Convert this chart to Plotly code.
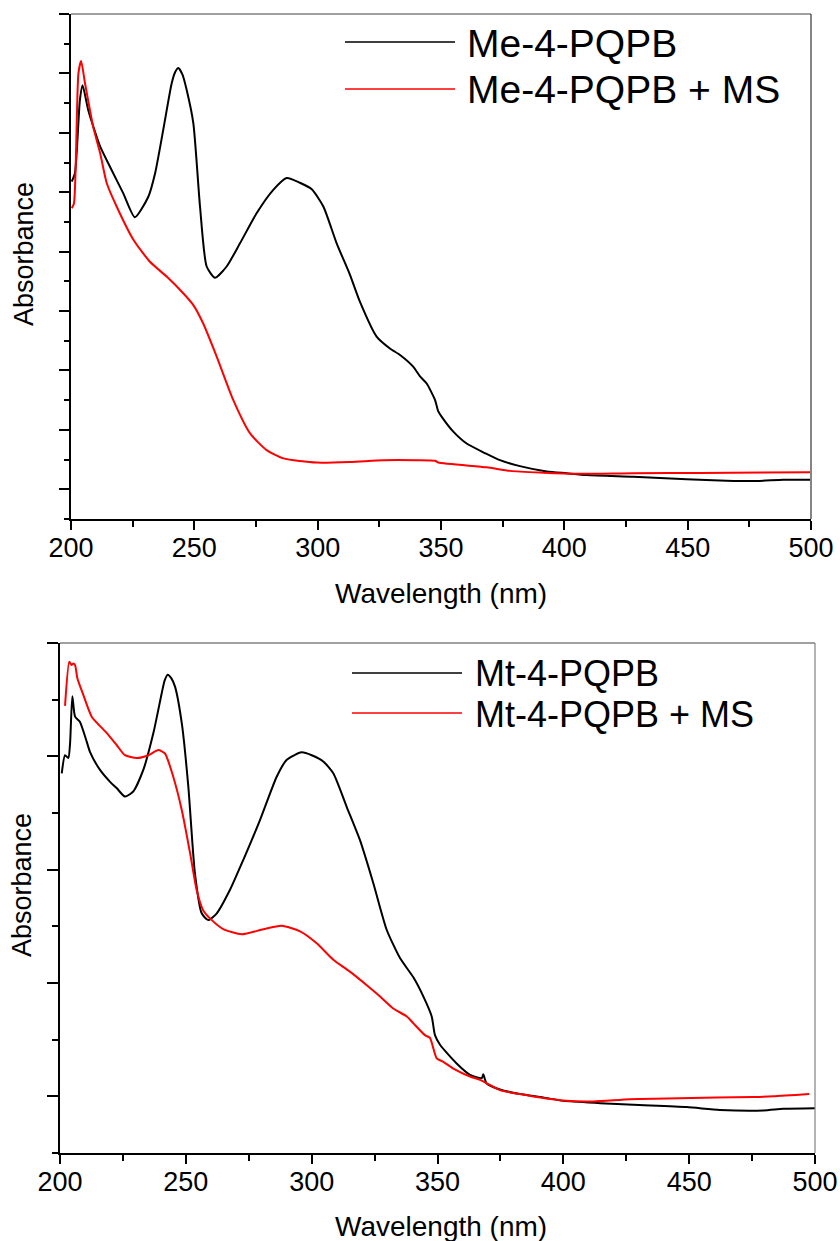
import plotly.graph_objects as go

# ---- Me-4-PQPB (upper panel) ----
me_wl = [200.3, 201.6, 203.6, 204.7, 207.0, 211.8, 215.8, 221.2, 225.9, 231.3,
         234.1, 237.4, 240.8, 242.2, 243.5, 245.2, 246.9, 249.6, 252.3, 255.0, 258.4, 263.1,
         268.5, 275.3, 282.0, 287.4, 292.8, 297.6, 302.3, 307.7, 313.1, 317.2,
         323.9, 329.3, 333.4, 338.8, 341.5, 344.2, 347.6, 348.9, 350.3, 355.0,
         360.4, 367.8, 373.9, 382.0, 392.9, 401.0, 409.1, 428.0, 449.6, 465.8,
         478.0, 488.8, 499.6]
me_abs = [0.518, 0.532, 0.655, 0.680, 0.638, 0.577, 0.543, 0.498, 0.458, 0.492,
          0.532, 0.605, 0.683, 0.702, 0.709, 0.698, 0.672, 0.616, 0.476, 0.375, 0.356, 0.375,
          0.414, 0.465, 0.504, 0.524, 0.516, 0.505, 0.476, 0.414, 0.361, 0.315,
          0.257, 0.237, 0.226, 0.206, 0.190, 0.178, 0.150, 0.131, 0.122, 0.097,
          0.077, 0.061, 0.049, 0.039, 0.030, 0.027, 0.024, 0.021, 0.017, 0.0145,
          0.014, 0.016, 0.016]

me_ms_wl = [200.3, 201.2, 203.0, 204.1, 205.7, 209.0, 211.8, 214.5, 218.5, 225.3,
            232.0, 238.8, 245.5, 249.6, 253.6, 259.1, 265.8, 272.6, 279.3, 286.1,
            299.6, 313.1, 326.6, 340.1, 347.6, 348.9, 368.5, 378.0, 391.5, 405.0,
            428.0, 455.0, 499.6]
me_ms_abs = [0.473, 0.481, 0.700, 0.721, 0.683, 0.610, 0.566, 0.515, 0.476, 0.420,
             0.383, 0.358, 0.330, 0.310, 0.279, 0.223, 0.150, 0.094, 0.066, 0.052,
             0.045, 0.046, 0.049, 0.049, 0.048, 0.045, 0.037, 0.031, 0.028, 0.026,
             0.027, 0.0274, 0.0286]

# ---- Mt-4-PQPB (lower panel) ----
mt_wl = [200.7, 202.0, 203.3, 204.0, 204.9, 206.0, 207.9, 210.6, 211.9, 215.9,
         219.9, 222.5, 225.8, 229.1, 233.1, 237.1, 240.4, 241.6, 242.8, 244.2, 245.7, 248.4,
         251.0, 253.6, 256.3, 258.9, 262.3, 267.5, 272.8, 279.5, 286.1, 290.1,
         296.0, 300.0, 304.6, 308.6, 313.9, 319.2, 324.5, 329.8, 335.1, 340.4,
         344.4, 347.7, 349.0, 351.0, 357.6, 362.9, 367.6, 368.2, 369.5, 374.8,
         382.8, 392.0, 400.0, 414.6, 427.8, 449.0, 462.2, 479.5, 487.4, 500.0]
mt_abs = [0.570, 0.602, 0.597, 0.623, 0.706, 0.670, 0.661, 0.626, 0.608, 0.576,
          0.555, 0.544, 0.529, 0.538, 0.576, 0.641, 0.711, 0.734, 0.744, 0.738, 0.723, 0.658,
          0.546, 0.394, 0.323, 0.311, 0.323, 0.364, 0.417, 0.488, 0.564, 0.594,
          0.607, 0.602, 0.591, 0.570, 0.511, 0.452, 0.376, 0.294, 0.244, 0.210,
          0.176, 0.141, 0.108, 0.091, 0.058, 0.038, 0.032, 0.039, 0.023, 0.012,
          0.004, -0.002, -0.008, -0.012, -0.015, -0.019, -0.024, -0.025, -0.022, -0.021]

mt_ms_wl = [202.0, 203.7, 204.6, 205.3, 206.0, 206.9, 209.3, 212.6, 218.6, 222.5,
            225.8, 230.5, 235.1, 239.1, 241.7, 245.0, 248.4, 251.7, 254.3, 256.8,
            259.6, 264.9, 272.2, 280.8, 288.1, 295.4, 302.0, 308.6, 315.2, 321.9,
            327.2, 332.4, 337.8, 340.4, 345.0, 347.0, 349.7, 352.3, 356.3, 362.9,
            366.9, 369.5, 374.8, 382.8, 392.0, 401.3, 411.9, 426.5, 441.1, 460.9,
            475.5, 483.4, 497.7]
mt_ms_abs = [0.689, 0.767, 0.761, 0.764, 0.761, 0.738, 0.708, 0.670, 0.641, 0.620,
             0.602, 0.597, 0.602, 0.611, 0.605, 0.564, 0.505, 0.429, 0.364, 0.329,
             0.314, 0.295, 0.286, 0.295, 0.301, 0.291, 0.270, 0.241, 0.220, 0.196,
             0.176, 0.155, 0.141, 0.129, 0.108, 0.103, 0.067, 0.061, 0.049, 0.035,
             0.029, 0.023, 0.011, 0.004, -0.003, -0.008, -0.009, -0.005, -0.004, -0.002,
             -0.001, 0.000, 0.004]

x_ticks = [200, 250, 300, 350, 400, 450, 500]
legend_top = ["Me-4-PQPB", "Me-4-PQPB + MS"]
legend_bottom = ["Mt-4-PQPB", "Mt-4-PQPB + MS"]

W, H = 840, 1241
FONT = "Arial, Liberation Sans, sans-serif"
BLACK, RED = "#000000", "#ff0000"

fig = go.Figure()
line_style = dict(width=2, shape="spline", smoothing=0.6)
fig.add_trace(go.Scatter(x=me_wl, y=me_abs, mode="lines", line=dict(color=BLACK, **line_style),
                         xaxis="x", yaxis="y", showlegend=False))
fig.add_trace(go.Scatter(x=me_ms_wl, y=me_ms_abs, mode="lines", line=dict(color=RED, **line_style),
                         xaxis="x", yaxis="y", showlegend=False))
fig.add_trace(go.Scatter(x=mt_wl, y=mt_abs, mode="lines", line=dict(color=BLACK, **line_style),
                         xaxis="x2", yaxis="y2", showlegend=False))
fig.add_trace(go.Scatter(x=mt_ms_wl, y=mt_ms_abs, mode="lines", line=dict(color=RED, **line_style),
                         xaxis="x2", yaxis="y2", showlegend=False))


def px_x(px):
    return px / W


def px_y(py):
    return 1 - py / H


tick_font = dict(family=FONT, size=27, color=BLACK)
common_x = dict(range=[200, 500], tickvals=x_ticks, ticks="outside", ticklen=9, tickwidth=2,
                tickcolor=BLACK, showline=True, linewidth=2, linecolor=BLACK, showgrid=False,
                zeroline=False, mirror=False, tickfont=tick_font, automargin=False,
                ticklabelstandoff=-5,
                minor=dict(dtick=25, tick0=200, ticks="outside", ticklen=6, tickwidth=2,
                           tickcolor=BLACK, showgrid=False))

fig.update_layout(
    width=W, height=H,
    margin=dict(l=0, r=0, t=0, b=0, pad=0, autoexpand=False),
    paper_bgcolor="white", plot_bgcolor="white",
    font=dict(family=FONT, color=BLACK),
    xaxis=dict(domain=[px_x(71), px_x(811)], anchor="y", **common_x),
    yaxis=dict(domain=[px_y(519), px_y(14)], anchor="x", range=[-0.05, 0.8],
               tick0=0, dtick=0.1, ticks="outside", ticklen=10, tickwidth=2, tickcolor=BLACK,
               showticklabels=False, showline=True, linewidth=2, linecolor=BLACK,
               showgrid=False, zeroline=False, automargin=False,
               minor=dict(dtick=0.05, tick0=0, ticks="outside", ticklen=5, tickwidth=2,
                          tickcolor=BLACK, showgrid=False)),
    xaxis2=dict(domain=[px_x(60), px_x(815)], anchor="y2", **common_x),
    yaxis2=dict(domain=[px_y(1153), px_y(643)], anchor="x2", range=[-0.1, 0.8],
                tick0=0, dtick=0.2, ticks="outside", ticklen=11, tickwidth=2, tickcolor=BLACK,
                showticklabels=False, showline=True, linewidth=2, linecolor=BLACK,
                showgrid=False, zeroline=False, automargin=False,
                minor=dict(dtick=0.1, tick0=0, ticks="outside", ticklen=6, tickwidth=2,
                           tickcolor=BLACK, showgrid=False)),
)

shapes = []
# frame: thin top and right borders
for xr, yr, top_col, right_col in [("x domain", "y domain", "#808080", "#333333"),
                                   ("x2 domain", "y2 domain", "#808080", "#808080")]:
    shapes.append(dict(type="line", xref=xr, yref=yr, x0=0, x1=1, y0=1, y1=1,
                       line=dict(color=top_col, width=1.5)))
    shapes.append(dict(type="line", xref=xr, yref=yr, x0=1, x1=1, y0=0, y1=1,
                       line=dict(color=right_col, width=1.2)))

annotations = []
# legend samples and labels
for labels, x0, x1, tx, rows, fsize in [(legend_top, 345, 455, 465, [42, 89], 39),
                                        (legend_bottom, 352, 462, 473, [673, 713], 36)]:
    for label, color, ry in zip(labels, [BLACK, RED], rows):
        shapes.append(dict(type="line", xref="paper", yref="paper",
                           x0=px_x(x0), x1=px_x(x1), y0=px_y(ry), y1=px_y(ry),
                           line=dict(color=color, width=1.5)))
        annotations.append(dict(text=label, xref="paper", yref="paper", x=px_x(tx), y=px_y(ry + 1),
                                xanchor="left", yanchor="middle", showarrow=False,
                                font=dict(family=FONT, size=fsize, color=BLACK)))

# axis titles
for xt_y, yt_x, yt_y in [(593, 24, 254), (1226, 22, 885)]:
    annotations.append(dict(text="Wavelength (nm)", xref="paper", yref="paper",
                            x=px_x(441), y=px_y(xt_y), xanchor="center", yanchor="middle",
                            showarrow=False, font=dict(family=FONT, size=28, color=BLACK)))
    annotations.append(dict(text="Absorbance", xref="paper", yref="paper",
                            x=px_x(yt_x), y=px_y(yt_y), xanchor="center", yanchor="middle",
                            textangle=-90, showarrow=False,
                            font=dict(family=FONT, size=27, color=BLACK)))

fig.update_layout(shapes=shapes, annotations=annotations)
fig.write_html("out.html")
